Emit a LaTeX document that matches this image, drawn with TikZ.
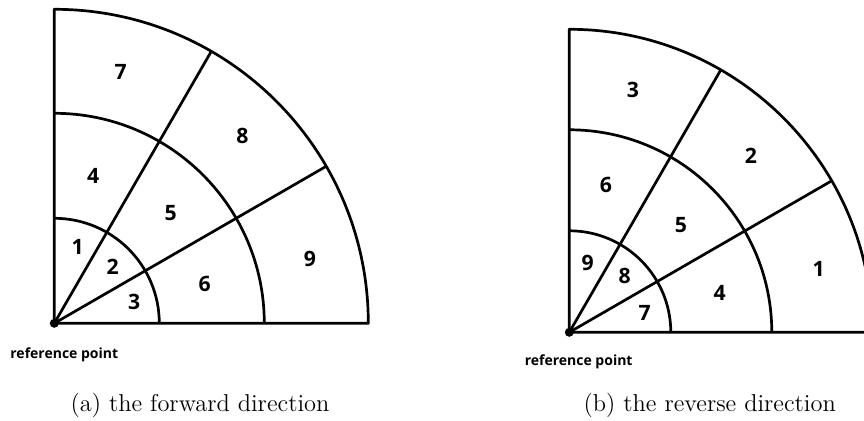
\documentclass[tikz,border=0pt]{standalone}
\usepackage{fontspec}
\newfontfamily\labfont{Open Sans}
\begin{document}
\begin{tikzpicture}[x=0.5pt,y=0.5pt,
  edge/.style={line width=1.35pt, line join=round},
  num/.style={font=\labfont\bfseries\fontsize{10.6}{11}\selectfont, inner sep=0pt},
  reflabel/.style={font=\labfont\bfseries\fontsize{7}{8}\selectfont, inner sep=0pt},
  captext/.style={font=\fontsize{12.2}{14}\selectfont, inner sep=0pt}]
\useasboundingbox (0,0) rectangle (864,421);
\clip (0,0) rectangle (864,421);
% ---------- (a) forward ----------
\begin{scope}[shift={(54.3,97.7)}]
  \coordinate (oa) at (0,0);
  \draw[edge] (oa) -- (314,0) arc[start angle=0,end angle=90,radius=314] -- cycle;
  \draw[edge] (105,0) arc[start angle=0,end angle=90,radius=105];
  \draw[edge] (210,0) arc[start angle=0,end angle=90,radius=210];
  \draw[edge] (oa) -- (30:314);
  \draw[edge] (oa) -- (60:314);
  \fill (oa) circle (4.5);
\end{scope}
\node[num] (a7) at (120.7,349.3) {7};
\node[num] (a8) at (242.3,285) {8};
\node[num] (a4) at (93.3,245.3) {4};
\node[num] (a5) at (170.7,208.3) {5};
\node[num] (a1) at (77.7,174.3) {1};
\node[num] (a2) at (112.7,154.3) {2};
\node[num] (a9) at (310,161.7) {9};
\node[num] (a6) at (204.7,136.7) {6};
\node[num] (a3) at (134.3,119.3) {3};
\node[reflabel] (aref) at (64.3,66) {reference point};
\node[captext] (acap) at (200,16) {(a) the forward direction};
% ---------- (b) reverse ----------
\begin{scope}[shift={(569.3,88.7)}]
  \coordinate (ob) at (0,0);
  \draw[edge] (ob) -- (303,0) arc[start angle=0,end angle=90,radius=303] -- cycle;
  \draw[edge] (101.5,0) arc[start angle=0,end angle=90,radius=101.5];
  \draw[edge] (202.5,0) arc[start angle=0,end angle=90,radius=202.5];
  \draw[edge] (ob) -- (30:303);
  \draw[edge] (ob) -- (60:303);
  \fill (ob) circle (4.5);
\end{scope}
\node[num] (b3) at (633,331) {3};
\node[num] (b2) at (751,265.3) {2};
\node[num] (b6) at (606,236) {6};
\node[num] (b5) at (681,196) {5};
\node[num] (b9) at (587.7,157.7) {9};
\node[num] (b8) at (624.7,145) {8};
\node[num] (b1) at (818.7,151.7) {1};
\node[num] (b4) at (719.7,127.7) {4};
\node[num] (b7) at (644.7,107.7) {7};
\node[reflabel] (bref) at (578.7,58.7) {reference point};
\node[captext] (bcap) at (709.7,16) {(b) the reverse direction};
\end{tikzpicture}
\end{document}
